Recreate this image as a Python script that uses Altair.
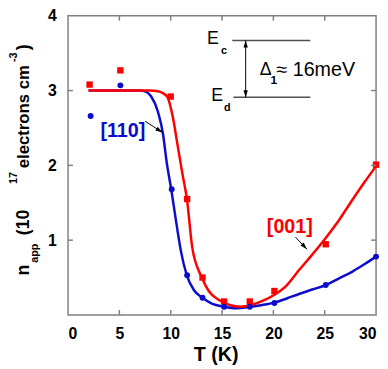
import math
import altair as alt
import pandas as pd

# ---------------- data ----------------
blue_T = [2.2, 5.1, 10.1, 11.6, 13.1, 15.2, 17.7, 20.1, 25.1, 30.0]
blue_n = [2.66, 3.07, 1.68, 0.53, 0.23, 0.11, 0.11, 0.16, 0.40, 0.78]
red_T = [2.1, 5.1, 10.0, 11.6, 13.1, 15.2, 17.7, 20.1, 25.1, 30.0]
red_n = [3.08, 3.27, 2.92, 1.55, 0.50, 0.18, 0.18, 0.32, 0.945, 2.01]

blue_fit_T = [2.0, 5.0, 7.0, 7.5, 8.1, 8.75, 9.25, 9.6, 10.05, 10.67, 11.0, 11.57,
              12.27, 13.1, 14.0, 15.2, 16.4, 17.6, 18.8, 20.1, 21.3, 22.5, 23.8,
              25.1, 26.4, 27.7, 28.9, 30.0]
blue_fit_n = [3.0, 3.0, 3.0, 2.99, 2.92, 2.72, 2.42, 2.05, 1.68, 1.12, 0.85, 0.53,
              0.33, 0.23, 0.15, 0.11, 0.09, 0.105, 0.13, 0.165, 0.22, 0.28, 0.34,
              0.40, 0.49, 0.58, 0.68, 0.78]
red_fit_T = [2.0, 5.0, 8.0, 8.75, 9.3, 9.7, 10.2, 10.67, 11.15, 11.57, 12.1, 13.0,
             13.7, 14.7, 15.8, 16.8, 18.0, 19.0, 20.1, 21.25, 22.5, 23.8, 25.1,
             26.4, 27.7, 28.9, 30.0]
red_fit_n = [3.0, 3.0, 3.0, 2.99, 2.96, 2.91, 2.65, 2.27, 1.88, 1.56, 0.90, 0.51,
             0.32, 0.20, 0.13, 0.11, 0.14, 0.19, 0.27, 0.39, 0.60, 0.81, 1.03,
             1.27, 1.54, 1.78, 1.99]

x_ticks = [0, 5, 10, 15, 20, 25, 30]
y_ticks = [0, 1, 2, 3, 4]

# ---------------- styling ----------------
W, H = 313, 304
BLUE = "#0c0ccc"
RED = "#ff0000"
GRAY = "#808080"
FONT = "Liberation Sans"
PX_T = W / 30.0
PX_N = H / 4.0

xs = alt.Scale(domain=[0, 30], nice=False, zero=False)
ys = alt.Scale(domain=[0, 4], nice=False, zero=False)

x_axis = alt.Axis(values=x_ticks, ticks=False, domain=False, grid=False,
                  labelFontSize=16, labelFontWeight="bold", labelPadding=11,
                  labelFont=FONT, labelColor="black", title=None)
y_axis = alt.Axis(values=y_ticks, ticks=False, domain=False, grid=False,
                  labelFontSize=16, labelFontWeight="bold", labelPadding=12,
                  labelFont=FONT, labelColor="black", title=None,
                  labelExpr="datum.value == 0 ? '' : datum.label")


def X():
    return alt.X("T:Q", scale=xs, axis=x_axis)


def Y():
    return alt.Y("n:Q", scale=ys, axis=y_axis)


blue_fit = pd.DataFrame({"T": blue_fit_T, "n": blue_fit_n})
red_fit = pd.DataFrame({"T": red_fit_T, "n": red_fit_n})
blue_pts = pd.DataFrame({"T": blue_T, "n": blue_n})
red_pts = pd.DataFrame({"T": red_T, "n": red_n})

layers = []
layers.append(alt.Chart(blue_fit).mark_line(color=BLUE, strokeWidth=2.5, interpolate="monotone", clip=False)
              .encode(x=X(), y=Y()))
layers.append(alt.Chart(red_fit).mark_line(color=RED, strokeWidth=2.5, interpolate="monotone", clip=False)
              .encode(x=X(), y=Y()))
layers.append(alt.Chart(red_pts).mark_square(color=RED, size=42, opacity=1, clip=False)
              .encode(x=X(), y=Y()))
layers.append(alt.Chart(blue_pts).mark_circle(color=BLUE, size=36, opacity=1, clip=False)
              .encode(x=X(), y=Y()))

# inward ticks on all four sides
xt = pd.DataFrame({"T": x_ticks[1:-1]})
yt = pd.DataFrame({"n": y_ticks[1:-1]})
layers.append(alt.Chart(xt).mark_rule(color=GRAY, strokeWidth=1.5)
              .encode(x=X(), y=alt.value(H), y2=alt.value(H - 5)))
layers.append(alt.Chart(xt).mark_rule(color=GRAY, strokeWidth=1.5)
              .encode(x=X(), y=alt.value(0), y2=alt.value(5)))
layers.append(alt.Chart(yt).mark_rule(color=GRAY, strokeWidth=1.5)
              .encode(y=Y(), x=alt.value(0), x2=alt.value(5)))
layers.append(alt.Chart(yt).mark_rule(color=GRAY, strokeWidth=1.5)
              .encode(y=Y(), x=alt.value(W), x2=alt.value(W - 5)))


def arrow(t0, n0, t1, n1, color="black", width=1, head=True):
    df = pd.DataFrame({"T": [t0, t1], "n": [n0, n1]})
    out = [alt.Chart(df).mark_line(color=color, strokeWidth=width, clip=False)
           .encode(x=X(), y=Y())]
    if head:
        dx = (t1 - t0) * PX_T
        dy = -(n1 - n0) * PX_N
        ang = math.degrees(math.atan2(dx, -dy)) % 360
        hd = pd.DataFrame({"T": [t1], "n": [n1]})
        out.append(alt.Chart(hd).mark_point(shape="M0,0L-0.55,1.8L0.55,1.8Z", filled=True,
                                            color=color, size=64, angle=ang, opacity=1)
                   .encode(x=X(), y=Y()))
    return out


def label(t, n, s, size, color="black", weight="bold", align="center"):
    df = pd.DataFrame({"T": [t], "n": [n]})
    return alt.Chart(df).mark_text(text=s, fontSize=size, fontWeight=weight, color=color,
                                   font=FONT, align=align, baseline="middle").encode(x=X(), y=Y())


# series labels and arrows
layers.append(label(5.34, 2.46, "[110]", 20, BLUE))
layers += arrow(7.51, 2.59, 9.20, 2.44)
layers.append(label(21.6, 1.17, "[001]", 20, RED))
layers += arrow(22.15, 1.04, 23.27, 0.88)

# energy-level inset
layers += arrow(16.0, 3.67, 23.6, 3.67, color="#505050", width=1.5, head=False)
layers += arrow(16.1, 2.91, 23.6, 2.91, color="#505050", width=1.5, head=False)
layers += arrow(17.3, 3.29, 17.3, 3.67)
layers += arrow(17.3, 3.29, 17.3, 2.91)
layers.append(label(14.1, 3.69, "E", 18, weight="normal"))
layers.append(label(15.2, 3.53, "c", 11, weight="bold"))
layers.append(label(14.53, 2.92, "E", 18, weight="normal"))
layers.append(label(15.5, 2.77, "d", 11, weight="bold"))
layers.append(label(19.25, 3.28, "\u0394", 18, weight="normal"))
layers.append(label(20.05, 3.14, "1", 12, weight="bold"))
layers.append(label(20.3, 3.28, "\u2248 16meV", 20, weight="normal", align="left"))

# y-axis title, built from pieces (rotated)
title_pieces = [
    ("n", 29, 277, 18),
    ("app", 38, 264, 11),
    ("(10", 29, 236, 18),
    ("17", 17, 184, 11),
    ("electrons cm", 29, 168, 17),
    ("-3", 17, 60, 11),
    (")", 29, 48, 18),
]
for s, xa, ya, fs in title_pieces:
    layers.append(alt.Chart(pd.DataFrame({"a": [0]})).mark_text(
        text=s, angle=270, align="left", baseline="alphabetic", fontSize=fs,
        fontWeight="bold", font=FONT, color="black")
        .encode(x=alt.value(xa - 69), y=alt.value(ya - 13)))

# x-axis title
layers.append(alt.Chart(pd.DataFrame({"a": [0]})).mark_text(
    text="T (K)", fontSize=20, fontWeight="bold", font=FONT, color="black",
    align="center", baseline="middle")
    .encode(x=alt.value(150.5), y=alt.value(357.5 - 13)))

chart = alt.layer(*layers).properties(
    width=W, height=H,
    autosize=alt.AutoSizeParams(type="none"),
    padding={"left": 61, "top": 5, "right": 4, "bottom": 50},
).configure_view(stroke=GRAY, strokeWidth=1.5).configure_axis(labelFont=FONT)

chart.save("out.html", embed_options={"renderer": "svg", "actions": False})
